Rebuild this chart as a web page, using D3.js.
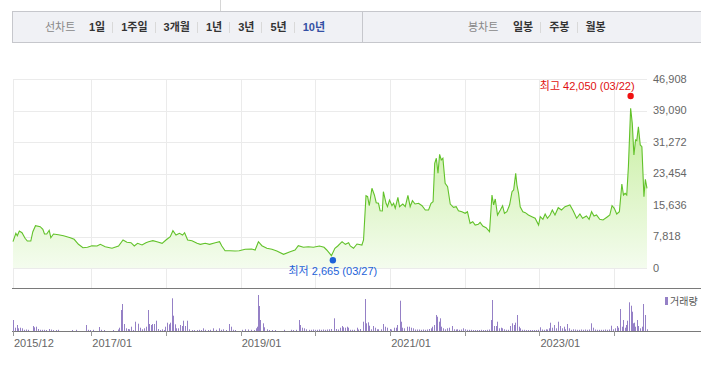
<!DOCTYPE html>
<html>
<head>
<meta charset="utf-8">
<script src="https://cdn.jsdelivr.net/npm/d3@7"></script>
<style>
  body { margin: 0; background: #fff; }
  svg { display: block; font-family: "Liberation Sans", "Noto Sans CJK KR", sans-serif; }
</style>
</head>
<body>
<svg id="chart" width="701" height="365"></svg>
<script>
// header tabs
const lineTabs = ["1일", "1주일", "3개월", "1년", "3년", "5년", "10년"]
const candleTabs = ["일봉", "주봉", "월봉"]

// weekly close (approx.)
const priceDates = [
  "2015-12-15","2015-12-29","2016-01-05","2016-01-15","2016-01-28","2016-02-12","2016-02-23","2016-03-11","2016-03-21","2016-04-03",
  "2016-04-26","2016-05-09","2016-05-17","2016-05-28","2016-06-09","2016-06-17","2016-06-30","2016-07-24","2016-08-18","2016-09-20",
  "2016-10-09","2016-10-30","2016-11-21","2016-12-13","2017-01-04","2017-01-29","2017-02-14","2017-03-10","2017-04-12","2017-05-14",
  "2017-06-05","2017-06-24","2017-07-14","2017-07-30","2017-08-15","2017-09-06","2017-09-25","2017-10-08","2017-10-29","2017-11-18",
  "2017-12-13","2018-01-01","2018-01-22","2018-02-04","2018-02-19","2018-03-08","2018-03-23","2018-04-02","2018-04-17","2018-05-08",
  "2018-06-02","2018-06-18","2018-07-12","2018-08-02","2018-08-30","2018-09-20","2018-10-01","2018-10-17","2018-11-10","2018-12-05",
  "2018-12-25","2019-01-23","2019-02-24","2019-03-13","2019-03-29","2019-04-15","2019-05-09","2019-06-03","2019-06-27","2019-07-30",
  "2019-08-31","2019-09-24","2019-10-10","2019-11-04","2019-11-28","2019-12-23","2020-01-21","2020-02-13","2020-02-26","2020-03-20",
  "2020-04-06","2020-04-20","2020-05-11","2020-05-27","2020-06-12","2020-06-20","2020-07-06","2020-07-23","2020-08-16","2020-08-24",
  "2020-09-05","2020-09-13","2020-09-21","2020-10-04","2020-10-16","2020-10-25","2020-11-05","2020-11-13","2020-11-24","2020-11-29",
  "2020-12-12","2020-12-19","2020-12-29","2021-01-10","2021-01-18","2021-01-26","2021-02-08","2021-02-16","2021-03-04","2021-03-16",
  "2021-03-29","2021-04-09","2021-04-20","2021-05-03","2021-05-20","2021-06-06","2021-06-22","2021-07-08","2021-07-20","2021-07-30",
  "2021-08-07","2021-08-15","2021-08-23","2021-08-31","2021-09-08","2021-09-16","2021-09-27","2021-10-09","2021-10-22","2021-11-07",
  "2021-11-20","2021-12-01","2021-12-18","2022-01-03","2022-01-14","2022-01-27","2022-02-09","2022-02-21","2022-03-08","2022-03-17",
  "2022-03-30","2022-04-15","2022-05-02","2022-05-14","2022-05-22","2022-05-30","2022-06-10","2022-06-24","2022-07-05","2022-07-14",
  "2022-07-26","2022-08-08","2022-08-20","2022-08-28","2022-09-07","2022-09-13","2022-09-21","2022-09-29","2022-10-12","2022-10-24",
  "2022-11-08","2022-11-25","2022-12-11","2022-12-28","2023-01-05","2023-01-18","2023-01-29","2023-02-09","2023-02-22","2023-03-05",
  "2023-03-18","2023-04-03","2023-04-19","2023-05-06","2023-05-30","2023-06-15","2023-07-02","2023-07-18","2023-07-31","2023-08-19",
  "2023-09-01","2023-09-13","2023-09-25","2023-10-07","2023-10-23","2023-11-08","2023-11-30","2023-12-11","2023-12-22","2024-01-02",
  "2024-01-14","2024-01-27","2024-02-08","2024-02-16","2024-02-24","2024-03-03","2024-03-11","2024-03-22","2024-03-30","2024-04-07",
  "2024-04-15","2024-04-21","2024-04-29","2024-05-08","2024-05-16","2024-05-26","2024-06-02","2024-06-10"
]
const priceValues = [
  6530,8610,8020,9180,8760,7370,6700,6700,9010,10500,
  10250,9610,8440,8440,9360,7520,8440,8270,8020,7520,
  7120,5880,5040,5140,5530,5460,5880,5290,4890,5460,
  6950,6380,6280,5460,6130,5710,6280,6530,6780,6530,
  6130,6950,7770,9260,8190,8610,8190,8760,6950,6780,
  6130,5880,6130,5880,6280,6530,5460,4290,4290,4220,
  4290,4640,4720,4470,6530,5530,4890,4640,4220,3400,
  4050,4470,5530,5140,5290,5140,5460,5140,4470,3050,
  4890,5460,6530,5880,6280,5460,4890,5960,5710,6950,
  17950,17700,15460,19780,18120,16210,16060,14220,14150,18940,
  16060,15210,16880,15460,16060,14820,17550,15210,15880,15210,
  18040,15210,16700,15880,16060,15460,14400,14400,16060,16460,
  25990,27230,23500,28220,26810,27230,21020,20180,15880,15070,
  15210,14220,13970,13580,13970,11090,11490,10670,10850,11340,
  10420,10000,9010,18120,15640,17130,13150,14400,15460,13580,
  13970,15640,18940,19360,23500,20600,18540,15210,13970,13730,
  13150,12730,12340,10670,12730,12090,13400,12340,13150,14400,
  13150,14970,14400,15210,15640,14220,12340,13400,12340,12910,
  12090,13970,12910,13150,12090,11910,12730,13150,15460,14820,
  13400,13970,20850,18120,18540,18120,25140,39640,35910,28050,
  31770,31600,35070,30530,30110,17700,22020,19780
]

// weekly volume (relative)
const volumeDates = [
  "2015-12-16","2015-12-24","2016-01-03","2016-01-10","2016-01-19","2016-01-30","2016-02-07","2016-02-17","2016-02-27","2016-03-21",
  "2016-03-29","2016-04-07","2016-04-15","2016-04-26","2016-05-06","2016-05-16","2016-05-26","2016-06-09","2016-06-19","2016-06-29",
  "2016-07-14","2016-07-23","2016-09-28","2016-10-19","2016-12-06","2016-12-14","2016-12-27","2017-01-10","2017-02-07","2017-02-18",
  "2017-03-04","2017-04-16","2017-05-10","2017-05-18","2017-05-28","2017-06-02","2017-06-12","2017-06-20","2017-06-29","2017-07-05",
  "2017-07-15","2017-07-23","2017-08-04","2017-08-15","2017-08-25","2017-09-06","2017-09-17","2017-09-23","2017-10-03","2017-10-11",
  "2017-10-19","2017-10-27","2017-11-05","2017-11-11","2017-11-21","2017-12-01","2017-12-13","2017-12-20","2017-12-29","2018-01-06",
  "2018-01-14","2018-01-22","2018-01-28","2018-02-06","2018-02-12","2018-02-20","2018-02-28","2018-03-11","2018-03-19","2018-03-27",
  "2018-04-06","2018-04-16","2018-04-26","2018-05-07","2018-05-18","2018-06-01","2018-06-12","2018-06-22","2018-07-03","2018-07-13",
  "2018-07-25","2018-08-05","2018-08-21","2018-09-01","2018-09-15","2018-09-25","2018-10-09","2018-10-20","2018-11-07","2018-11-15",
  "2018-11-25","2018-12-05","2019-01-09","2019-01-23","2019-02-07","2019-02-21","2019-03-05","2019-03-15","2019-03-21","2019-03-27",
  "2019-04-02","2019-04-08","2019-04-18","2019-04-26","2019-05-08","2019-05-19","2019-06-04","2019-06-19","2019-07-30","2019-09-06",
  "2019-09-16","2019-09-30","2019-10-11","2019-10-19","2019-10-27","2019-11-08","2019-11-17","2019-11-30","2019-12-12","2019-12-22",
  "2020-01-01","2020-01-10","2020-01-20","2020-01-30","2020-02-09","2020-02-19","2020-02-28","2020-03-08","2020-03-18","2020-04-03",
  "2020-04-11","2020-04-21","2020-05-01","2020-05-09","2020-05-17","2020-05-25","2020-06-03","2020-06-10","2020-06-19","2020-06-29",
  "2020-07-09","2020-07-22","2020-07-30","2020-08-09","2020-08-21","2020-08-29","2020-09-05","2020-09-13","2020-09-21","2020-09-29",
  "2020-10-09","2020-10-17","2020-10-27","2020-11-05","2020-11-15","2020-11-29","2020-12-08","2020-12-19","2020-12-29","2021-01-06",
  "2021-01-18","2021-01-29","2021-02-06","2021-02-16","2021-02-21","2021-03-02","2021-03-11","2021-03-24","2021-04-01","2021-04-13",
  "2021-04-22","2021-05-01","2021-05-11","2021-05-21","2021-05-31","2021-06-10","2021-06-19","2021-06-29","2021-07-09","2021-07-18",
  "2021-07-25","2021-08-02","2021-08-12","2021-08-19","2021-08-26","2021-08-31","2021-09-07","2021-09-17","2021-09-28","2021-10-06",
  "2021-10-17","2021-10-30","2021-11-08","2021-11-18","2021-11-25","2021-12-05","2021-12-15","2021-12-23","2022-01-03","2022-01-13",
  "2022-01-22","2022-02-01","2022-02-11","2022-02-21","2022-03-02","2022-03-12","2022-03-21","2022-03-31","2022-04-10","2022-04-20",
  "2022-04-29","2022-05-09","2022-05-16","2022-05-24","2022-06-02","2022-06-10","2022-06-18","2022-06-27","2022-07-04","2022-07-13",
  "2022-07-23","2022-08-02","2022-08-08","2022-08-20","2022-08-28","2022-09-05","2022-09-13","2022-09-21","2022-09-29","2022-10-09",
  "2022-10-19","2022-10-29","2022-11-07","2022-11-17","2022-11-27","2022-12-07","2022-12-16","2022-12-26","2023-01-05","2023-01-13",
  "2023-01-22","2023-02-01","2023-02-09","2023-02-15","2023-02-22","2023-03-02","2023-03-13","2023-03-23","2023-04-03","2023-04-12",
  "2023-04-23","2023-05-01","2023-05-08","2023-05-17","2023-05-27","2023-06-04","2023-06-14","2023-06-24","2023-07-04","2023-07-14",
  "2023-07-24","2023-08-03","2023-08-12","2023-08-22","2023-09-01","2023-09-11","2023-09-19","2023-09-29","2023-10-10","2023-10-20",
  "2023-10-29","2023-11-08","2023-11-18","2023-11-28","2023-12-08","2023-12-17","2023-12-26","2024-01-06","2024-01-14","2024-01-22",
  "2024-01-30","2024-02-08","2024-02-13","2024-02-21","2024-02-29","2024-03-06","2024-03-16","2024-03-22","2024-03-27","2024-04-01",
  "2024-04-08","2024-04-14","2024-04-21","2024-04-29","2024-05-07","2024-05-16","2024-05-23","2024-06-01","2024-06-09"
]
const volumeValues = [
  110,33,60,27,33,27,12,15,12,50,
  37,43,20,12,12,12,10,20,14,10,
  10,12,10,12,60,12,10,12,40,12,
  10,10,15,33,210,270,70,27,20,17,
  43,10,93,73,33,17,27,43,210,70,
  60,70,70,103,20,10,17,10,43,83,
  67,83,327,153,67,27,27,60,50,103,
  50,103,17,10,10,10,12,10,27,12,
  10,12,27,12,27,12,17,10,70,43,
  12,10,12,17,15,12,10,27,43,360,
  250,110,77,37,17,10,10,10,12,12,
  10,12,110,60,33,27,17,12,12,15,
  12,12,15,12,15,12,15,17,20,127,
  20,15,33,50,37,33,43,33,12,12,
  12,33,15,20,93,320,77,87,53,17,
  50,33,17,17,17,70,43,33,20,15,
  33,33,60,303,93,33,27,43,43,33,
  27,15,15,15,12,15,12,15,20,27,
  43,60,160,143,93,127,43,27,17,27,
  33,50,17,15,17,12,15,27,17,12,
  12,12,10,10,10,10,12,10,10,12,
  15,110,310,50,50,93,27,33,27,17,
  12,12,50,77,60,83,160,43,27,12,
  12,10,10,10,10,10,10,12,37,15,
  12,17,15,27,83,33,60,27,93,50,
  27,43,17,70,27,12,17,15,12,12,
  15,12,15,12,15,77,33,15,12,12,
  12,12,15,12,15,53,17,27,50,33,
  220,43,110,33,60,103,287,253,193,77,
  83,43,110,50,27,43,270,160,17
]

const yTicks = [0, 7818, 15636, 23454, 31272, 39090, 46908]
const xGridDates = ["2015-12-15", "2017-01-01", "2018-01-01", "2019-01-01", "2020-01-01", "2021-01-01", "2022-01-01", "2023-01-01", "2024-01-01"]
const xLabelDates = ["2015-12-15", "2017-01-01", "2019-01-01", "2021-01-01", "2023-01-01"]
const xLabels = ["2015/12", "2017/01", "2019/01", "2021/01", "2023/01"]

const highPoint = { date: "2024-03-22", value: 42050, label: "최고 42,050 (03/22)" }
const lowPoint = { date: "2020-03-27", value: 2665, label: "최저 2,665 (03/27)" }

const parse = d3.utcParse("%Y-%m-%d")
const prices = priceDates.map((d, i) => ({ date: parse(d), value: priceValues[i] }))
const volumes = volumeDates.map((d, i) => ({ date: parse(d), value: volumeValues[i] }))

const svg = d3.select("#chart")
const W = 701

// ---- header bar
svg.append("line").attr("x1", 220.5).attr("x2", 220.5).attr("y1", 0).attr("y2", 11)
  .attr("stroke", "#d6d6d6")
svg.append("rect").attr("x", 12.5).attr("y", 11.5).attr("width", W).attr("height", 31)
  .attr("fill", "#f0f1f5").attr("stroke", "#c6c7cc")
svg.append("line").attr("x1", 362.5).attr("x2", 362.5).attr("y1", 11.5).attr("y2", 42.5)
  .attr("stroke", "#c6c7cc")

const tabRow = function (title, titleX, items, startX, activeIdx) {
  svg.append("text").attr("x", titleX).attr("y", 27.5).attr("dy", "0.35em")
    .attr("font-size", 11).attr("fill", "#888").text(title)
  let x = startX
  items.forEach((t, i) => {
    const txt = svg.append("text").attr("x", x).attr("y", 27.5).attr("dy", "0.35em")
      .attr("font-size", 11).attr("font-weight", "bold")
      .attr("fill", i === activeIdx ? "#3450a4" : "#333").text(t)
    const w = txt.node().getComputedTextLength()
    if (i < items.length - 1) {
      svg.append("line").attr("x1", Math.round(x + w + 7) + 0.5).attr("x2", Math.round(x + w + 7) + 0.5)
        .attr("y1", 22).attr("y2", 33).attr("stroke", "#d9d9d9")
    }
    x += w + 16
  })
}
tabRow("선차트", 45, lineTabs, 89, lineTabs.length - 1)
tabRow("봉차트", 468, candleTabs, 513, -1)

// ---- scales
const x = d3.scaleUtc().domain(d3.extent(prices, d => d.date)).range([13, 647])
const y = d3.scaleLinear().domain([0, d3.max(yTicks)]).range([268, 79])
const yv = d3.scaleLinear().domain([0, d3.max(volumeValues)]).range([331, 295])

// grid
const grid = svg.append("g")
grid.selectAll(".hg").data(yTicks).join("line")
  .attr("x1", 13).attr("x2", 647)
  .attr("y1", d => Math.round(y(d)) + 0.5).attr("y2", d => Math.round(y(d)) + 0.5)
  .attr("stroke", "#ebebeb")
grid.selectAll(".vg").data(xGridDates).join("line")
  .attr("x1", d => Math.round(x(parse(d))) + 0.5).attr("x2", d => Math.round(x(parse(d))) + 0.5)
  .attr("y1", 79).attr("y2", 288)
  .attr("stroke", "#ebebeb")

// y labels
svg.append("g").selectAll("text").data(yTicks).join("text")
  .attr("x", 653).attr("y", d => y(d)).attr("dy", "0.35em")
  .attr("font-size", 11).attr("fill", "#666")
  .text(d => d3.format(",")(d))

// area + line
const defs = svg.append("defs")
const grad = defs.append("linearGradient").attr("id", "fillGrad")
  .attr("gradientUnits", "userSpaceOnUse").attr("x1", 0).attr("x2", 0).attr("y1", 79).attr("y2", 268)
grad.append("stop").attr("offset", 0).attr("stop-color", "#bdeb8e")
grad.append("stop").attr("offset", 1).attr("stop-color", "#f4fcee")

svg.append("path").datum(prices)
  .attr("d", d3.area().x(d => x(d.date)).y0(y(0)).y1(d => y(d.value)))
  .attr("fill", "url(#fillGrad)")
svg.append("path").datum(prices)
  .attr("d", d3.line().x(d => x(d.date)).y(d => y(d.value)))
  .attr("fill", "none").attr("stroke", "#62c22a").attr("stroke-width", 1.1)

// high / low markers
const hx = x(parse(highPoint.date)), hy = y(highPoint.value) - 2.5
svg.append("circle").attr("cx", hx).attr("cy", hy).attr("r", 3.2).attr("fill", "#f01010")
svg.append("text").attr("x", hx + 4).attr("y", hy - 10).attr("text-anchor", "end").attr("dy", "0.35em")
  .attr("font-size", 11).attr("fill", "#e01010").text(highPoint.label)
const lx = x(parse(lowPoint.date)), ly = y(lowPoint.value) + 3
svg.append("circle").attr("cx", lx).attr("cy", ly).attr("r", 3.2).attr("fill", "#1e62d8")
svg.append("text").attr("x", lx).attr("y", ly + 11).attr("text-anchor", "middle").attr("dy", "0.35em")
  .attr("font-size", 11).attr("fill", "#1e62d8").text(lowPoint.label)

// separator between panels
svg.append("line").attr("x1", 12).attr("x2", W).attr("y1", 288.5).attr("y2", 288.5)
  .attr("stroke", "#7a7a7a").attr("stroke-width", 1.2)

// volume bars
svg.append("g").selectAll("rect").data(volumes).join("rect")
  .attr("x", d => Math.round(x(d.date)))
  .attr("width", 1)
  .attr("y", d => yv(d.value))
  .attr("height", d => yv(0) - yv(d.value))
  .attr("fill", "#9580c6")

// volume baseline + ticks
svg.append("line").attr("x1", 12).attr("x2", W).attr("y1", 331.5).attr("y2", 331.5)
  .attr("stroke", "#7a7a7a").attr("stroke-width", 1.2)
svg.append("g").selectAll("line").data(xGridDates).join("line")
  .attr("x1", d => Math.round(x(parse(d))) + 0.5).attr("x2", d => Math.round(x(parse(d))) + 0.5)
  .attr("y1", 331).attr("y2", 336).attr("stroke", "#999")
svg.append("g").selectAll("text").data(xLabelDates).join("text")
  .attr("x", d => x(parse(d)) + 1).attr("y", 343).attr("dy", "0.35em")
  .attr("font-size", 11).attr("fill", "#666")
  .text((d, i) => xLabels[i])

// legend
svg.append("rect").attr("x", 665).attr("y", 297).attr("width", 3).attr("height", 8).attr("fill", "#9580c6")
svg.append("text").attr("x", 670).attr("y", 301).attr("dy", "0.35em")
  .attr("font-size", 10).attr("fill", "#555").text("거래량")
</script>
</body>
</html>
